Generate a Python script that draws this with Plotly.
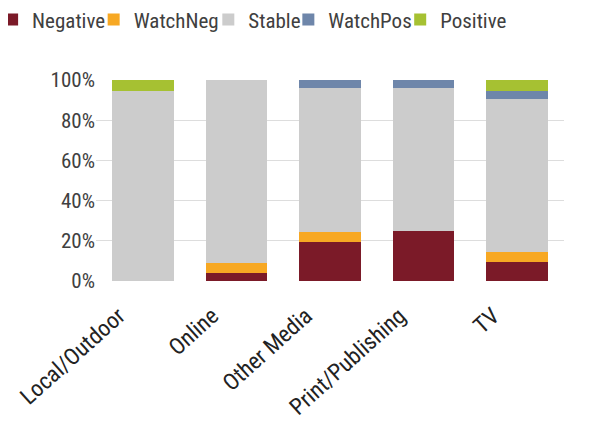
import plotly.graph_objects as go

categories = ["Local/Outdoor", "Online", "Other Media", "Print/Publishing", "TV"]
negative = [0, 4, 19.5, 25, 9.5]
watch_neg = [0, 5, 5, 0, 5]
stable = [94.5, 91, 71.5, 71, 76]
watch_pos = [0, 0, 4, 4, 4]
positive = [5.5, 0, 0, 0, 5.5]
y_ticks = [0, 20, 40, 60, 80, 100]
y_labels = ["0%", "20%", "40%", "60%", "80%", "100%"]

series = [
    ("Negative", negative, "#7B1A28"),
    ("WatchNeg", watch_neg, "#F7A823"),
    ("Stable", stable, "#CCCCCC"),
    ("WatchPos", watch_pos, "#6E86AA"),
    ("Positive", positive, "#A6C132"),
]
# one legend box per entry so the row is packed like the original
legend_x = [-0.222, -0.005, 0.240, 0.411, 0.650]

FONT = "Liberation Sans Narrow, Roboto Condensed, Arial Narrow, Roboto, sans-serif"

fig = go.Figure()
layout_legends = {}
for i, (name, vals, color) in enumerate(series):
    key = "legend" if i == 0 else f"legend{i + 1}"
    fig.add_trace(go.Bar(x=categories, y=vals, name=name, legend=key,
                         marker=dict(color=color, line=dict(width=0))))
    layout_legends[key] = dict(
        orientation="h",
        x=legend_x[i], xref="paper", xanchor="left",
        y=0.973, yref="container", yanchor="middle",
        font=dict(size=21, color="#404040"),
        bgcolor="rgba(0,0,0,0)",
    )

fig.update_layout(
    barmode="stack",
    bargap=0.34,
    width=592,
    height=437,
    margin=dict(l=88, r=36, t=72, b=164, autoexpand=False),
    paper_bgcolor="white",
    plot_bgcolor="white",
    font=dict(family=FONT, size=20, color="#404040"),
    showlegend=True,
    **layout_legends,
)
fig.update_yaxes(
    range=[0, 100],
    tickvals=y_ticks,
    ticktext=y_labels,
    showgrid=True,
    gridcolor="#DDDDDD",
    gridwidth=1,
    zeroline=False,
    showline=False,
    tickfont=dict(size=21, color="#404040"),
)
fig.update_xaxes(
    tickangle=-42,
    ticklabelshift=-24,
    ticklabelstandoff=16,
    showgrid=False,
    showline=False,
    tickfont=dict(size=23, color="#222222"),
)

fig.write_html("out.html")
